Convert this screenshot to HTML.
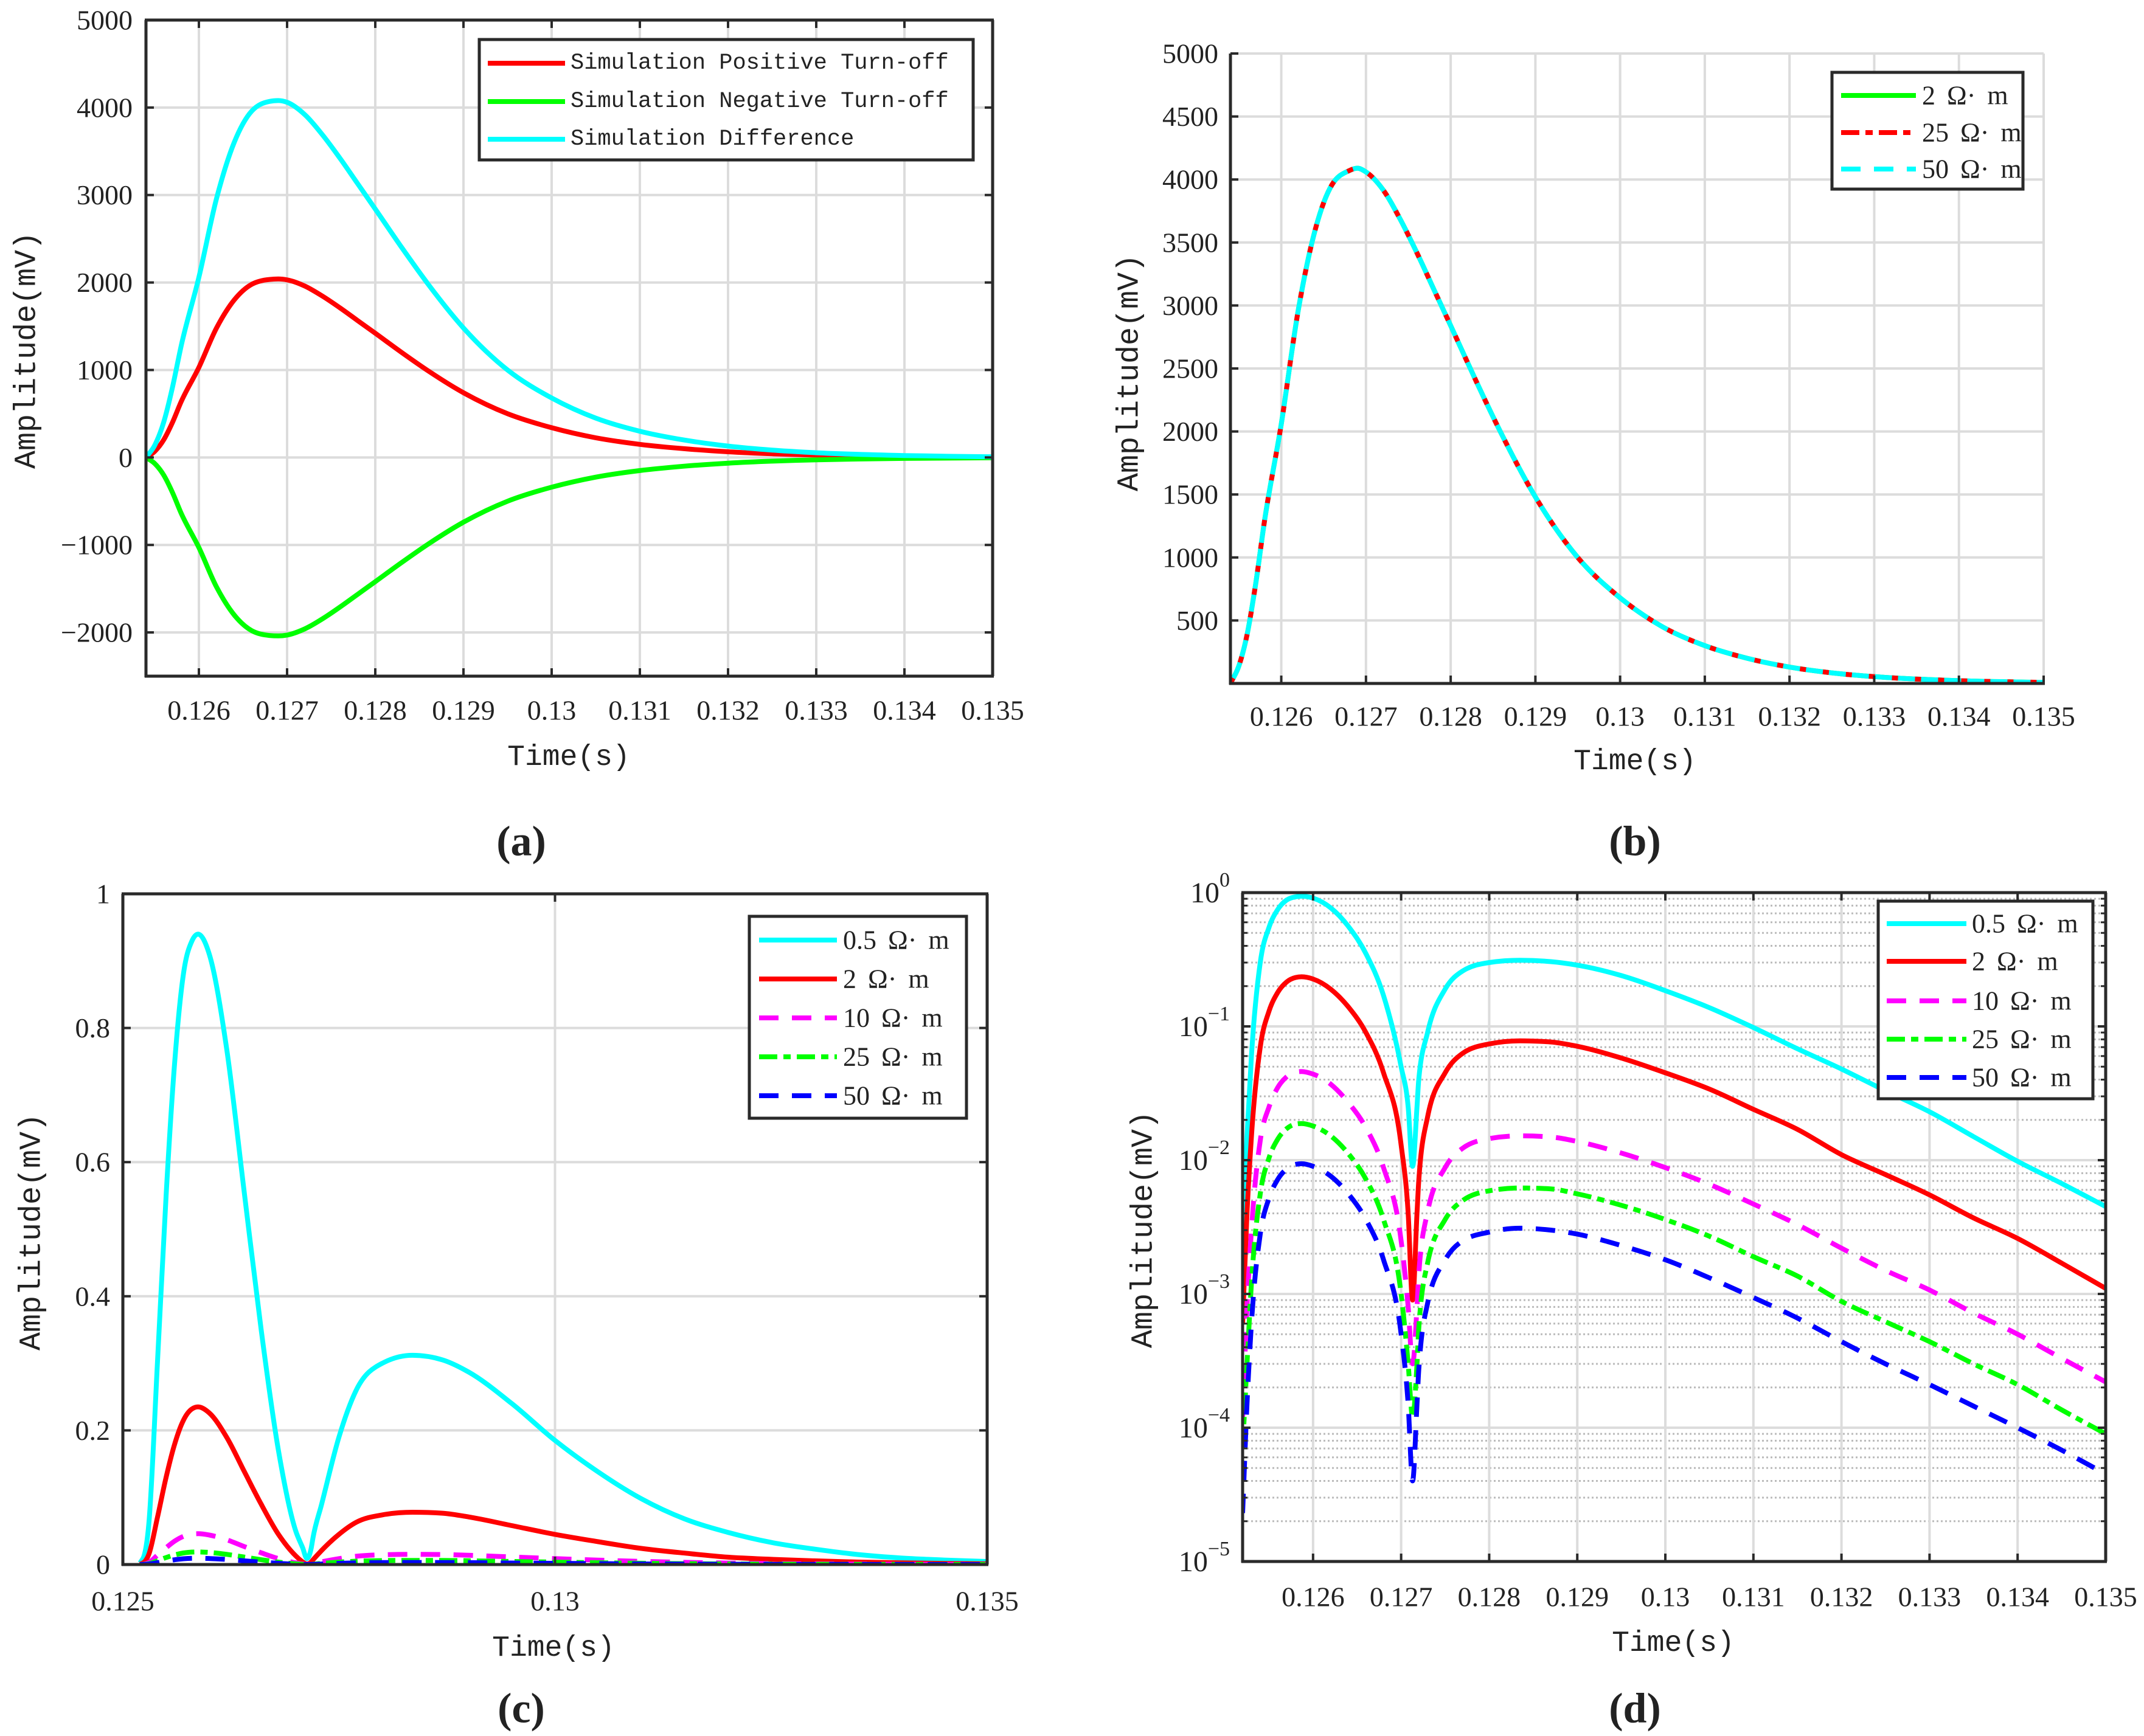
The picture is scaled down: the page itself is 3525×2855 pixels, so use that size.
<!DOCTYPE html>
<html><head><meta charset="utf-8">
<style>
html,body{margin:0;padding:0;background:#fff;}
svg{display:block;}
text{font-family:"Liberation Serif","Noto Serif CJK SC",serif;fill:#222;}
.mono{font-family:"Liberation Mono","Noto Sans CJK SC",monospace;}
</style></head>
<body>
<svg id="fig" width="3525" height="2855" viewBox="0 0 3525 2855" xmlns="http://www.w3.org/2000/svg"></svg>
<script>
// ---------- Panel (a) data ----------
const timeA = [0.1254,0.1255,0.1256,0.1257,0.1258,0.126,0.1262,0.1264,0.1266,0.1268,0.1269,0.127,0.1272,0.1274,0.1276,0.1278,0.128,0.1283,0.1286,0.129,0.1295,0.13,0.1305,0.131,0.1315,0.132,0.1325,0.133,0.134,0.135];
const posA = [0,70,200,400,640,1030,1480,1800,1980,2035,2040,2030,1960,1845,1710,1565,1420,1200,990,740,500,340,225,150,100,65,42,27,11,4];
const negA = [0,-70,-200,-400,-640,-1030,-1480,-1800,-1980,-2035,-2040,-2030,-1960,-1845,-1710,-1565,-1420,-1200,-990,-740,-500,-340,-225,-150,-100,-65,-42,-27,-11,-4];
const diffA = [0,140,400,800,1280,2060,2960,3600,3960,4070,4080,4060,3920,3690,3420,3130,2840,2400,1980,1480,1000,680,450,300,200,130,84,54,22,8];
const yTicksA = [-2000,-1000,0,1000,2000,3000,4000,5000];
const xTicksA = [0.126,0.127,0.128,0.129,0.13,0.131,0.132,0.133,0.134,0.135];
const xTickLabA = ["0.126","0.127","0.128","0.129","0.13","0.131","0.132","0.133","0.134","0.135"];
// ---------- Panel (b) data ----------
const timeB = [0.1254,0.1255,0.1256,0.1257,0.1258,0.126,0.1262,0.1264,0.1266,0.1268,0.1269,0.127,0.1272,0.1274,0.1276,0.1278,0.128,0.1283,0.1286,0.129,0.1295,0.13,0.1305,0.131,0.1315,0.132,0.1325,0.133,0.134,0.135];
const res2B = [0,140,400,800,1280,2060,2960,3600,3960,4070,4090,4060,3920,3690,3420,3130,2840,2400,1980,1480,1000,680,450,300,200,130,84,54,22,8];
const res25B = [0,140,400,800,1280,2060,2960,3600,3960,4070,4090,4060,3920,3690,3420,3130,2840,2400,1980,1480,1000,680,450,300,200,130,84,54,22,8];
const res50B = [0,140,400,800,1280,2060,2960,3600,3960,4070,4090,4060,3920,3690,3420,3130,2840,2400,1980,1480,1000,680,450,300,200,130,84,54,22,8];
const yTicksB = [500,1000,1500,2000,2500,3000,3500,4000,4500,5000];
// ---------- Panels (c)/(d) data ----------
const timeCD = [0.1252,0.12525,0.1253,0.1254,0.1255,0.1256,0.1257,0.1258,0.12587,0.126,0.1262,0.1264,0.1266,0.1268,0.127,0.12708,0.12713,0.12718,0.1272,0.1273,0.1275,0.1277,0.128,0.12835,0.1287,0.129,0.1295,0.13,0.1305,0.131,0.1315,0.132,0.1325,0.133,0.1335,0.134,0.1345,0.135];
const r05 = [0.0025,0.015,0.06,0.3,0.55,0.75,0.88,0.93,0.94,0.91,0.77,0.56,0.35,0.17,0.05,0.025,0.009,0.025,0.04,0.09,0.19,0.26,0.30,0.312,0.305,0.287,0.24,0.185,0.138,0.098,0.068,0.048,0.033,0.023,0.015,0.0098,0.0067,0.0045];
const r2 = [0.0006,0.004,0.015,0.07,0.13,0.18,0.215,0.232,0.235,0.226,0.19,0.14,0.09,0.045,0.013,0.004,0.0009,0.004,0.007,0.021,0.045,0.063,0.074,0.078,0.0765,0.071,0.058,0.045,0.034,0.024,0.017,0.011,0.0078,0.0055,0.0037,0.0026,0.0017,0.0011];
const r10 = [0.00012,0.0008,0.003,0.014,0.025,0.035,0.042,0.0455,0.046,0.044,0.037,0.027,0.0175,0.0088,0.0025,0.0008,0.0003,0.0008,0.0014,0.0041,0.0088,0.0123,0.0145,0.0152,0.0149,0.0138,0.0113,0.0088,0.0066,0.0047,0.0033,0.0022,0.0015,0.00107,0.00072,0.0005,0.00033,0.00022];
const r25 = [0.00007,0.0003,0.0012,0.0056,0.0104,0.0144,0.0172,0.0186,0.0188,0.018,0.0152,0.0112,0.0072,0.0036,0.001,0.0003,0.00012,0.0003,0.00055,0.0017,0.0036,0.005,0.0059,0.0062,0.0061,0.0056,0.0046,0.0036,0.0027,0.0019,0.00136,0.00088,0.00062,0.00044,0.0003,0.00021,0.000136,0.00009];
const r50 = [0.000023,0.00015,0.0006,0.0028,0.0052,0.0072,0.0086,0.0093,0.0094,0.009,0.0076,0.0056,0.0036,0.0018,0.0005,0.00015,0.00004,0.00015,0.00027,0.00085,0.0018,0.0025,0.0029,0.0031,0.003,0.0028,0.0023,0.0018,0.00132,0.00094,0.00066,0.00044,0.0003,0.00021,0.000145,0.0001,0.000068,0.000045];
const yTicksC = [0,0.2,0.4,0.6,0.8,1];
const yTickLabC = ["0","0.2","0.4","0.6","0.8","1"];
const xTicksC = [0.125,0.13,0.135];
const xTickLabC = ["0.125","0.13","0.135"];
const yDecadesD = [-5,-4,-3,-2,-1,0];

const NS="http://www.w3.org/2000/svg";
const svg=document.getElementById('fig');
function mk(tag,attrs,parent){const e=document.createElementNS(NS,tag);for(const k in attrs)e.setAttribute(k,attrs[k]);(parent||svg).appendChild(e);return e;}
function txt(s,x,y,size,anchor,parent,cls){const t=mk('text',{x:x,y:y,'font-size':size,'text-anchor':anchor||'middle','dominant-baseline':'central'},parent);if(cls)t.setAttribute('class',cls);t.textContent=s;return t;}
function lin(d0,d1,p0,p1){return v=>p0+(v-d0)/(d1-d0)*(p1-p0);}
function pathD(xs,ys,sx,sy){
  const X=xs.map(sx),Y=ys.map(sy),n=X.length;
  if(n<3){let d='';for(let i=0;i<n;i++)d+=(i?'L':'M')+X[i]+','+Y[i];return d;}
  const h=[],s=[];for(let i=0;i<n-1;i++){h.push(X[i+1]-X[i]);s.push((Y[i+1]-Y[i])/h[i]);}
  const m=new Array(n);
  for(let i=1;i<n-1;i++){const s0=s[i-1],s1=s[i];if(s0*s1<=0){m[i]=0;continue;}const p=(s0*h[i]+s1*h[i-1])/(h[i-1]+h[i]);m[i]=(Math.sign(s0)+Math.sign(s1))*Math.min(Math.abs(s0),Math.abs(s1),0.5*Math.abs(p));}
  m[0]=s[0];m[n-1]=s[n-2];
  let d='M'+X[0].toFixed(1)+','+Y[0].toFixed(1);
  for(let i=0;i<n-1;i++){const dx=h[i]/3;d+='C'+(X[i]+dx).toFixed(1)+','+(Y[i]+m[i]*dx).toFixed(1)+' '+(X[i+1]-dx).toFixed(1)+','+(Y[i+1]-m[i+1]*dx).toFixed(1)+' '+X[i+1].toFixed(1)+','+Y[i+1].toFixed(1);}
  return d;
}

function panel(cfg){
  const g=mk('g',{});
  
  
  const clipId=cfg.name+'-clip';
  const cp=mk('clipPath',{id:clipId},g);mk('rect',{x:cfg.L,y:cfg.T,width:cfg.R-cfg.L,height:cfg.B-cfg.T},cp);
  if(cfg.minorY){cfg.minorY.forEach(v=>{const y=cfg.sy(v);const l=mk('line',{x1:cfg.L,x2:cfg.R,y1:y,y2:y,stroke:'#bbb','stroke-width':3,'stroke-dasharray':'3 4'},g);});}
  cfg.gridX.forEach(v=>{const x=cfg.sx(v);const l=mk('line',{x1:x,x2:x,y1:cfg.T,y2:cfg.B,stroke:'#dcdcdc','stroke-width':4},g);});
  cfg.gridY.forEach(v=>{const y=cfg.sy(v);const l=mk('line',{x1:cfg.L,x2:cfg.R,y1:y,y2:y,stroke:'#dcdcdc','stroke-width':4},g);});
  cfg.series.forEach(s=>{const p=mk('path',{d:pathD(s.x,s.y,cfg.sx,s.sy||cfg.sy),fill:'none',stroke:s.c,'stroke-width':8,'stroke-linejoin':'round','clip-path':'url(#'+clipId+')'},g);if(s.dash)p.setAttribute('stroke-dasharray',s.dash);});
  const ax='#2a2a2a';
  const bl=mk('line',{x1:cfg.L,x2:cfg.L,y1:cfg.T,y2:cfg.B+2,stroke:ax,'stroke-width':5},g);
  const bb=mk('line',{x1:cfg.L-2,x2:cfg.R+2,y1:cfg.B,y2:cfg.B,stroke:ax,'stroke-width':5},g);
  if(cfg.box){mk('line',{x1:cfg.L-2,x2:cfg.R+2,y1:cfg.T,y2:cfg.T,stroke:ax,'stroke-width':5},g);mk('line',{x1:cfg.R,x2:cfg.R,y1:cfg.T,y2:cfg.B,stroke:ax,'stroke-width':5},g);}
  cfg.xTicks.forEach((v,i)=>{const x=cfg.sx(v);mk('line',{x1:x,x2:x,y1:cfg.B,y2:cfg.B-13,stroke:ax,'stroke-width':4},g);if(cfg.box)mk('line',{x1:x,x2:x,y1:cfg.T,y2:cfg.T+13,stroke:ax,'stroke-width':4},g);
    const t=txt(cfg.xLab[i],x,cfg.xLabY,46,'middle',g);});
  cfg.yTicks.forEach((v,i)=>{const y=cfg.sy(v);mk('line',{x1:cfg.L,x2:cfg.L+13,y1:y,y2:y,stroke:ax,'stroke-width':4},g);if(cfg.box)mk('line',{x1:cfg.R,x2:cfg.R-13,y1:y,y2:y,stroke:ax,'stroke-width':4},g);
    if(cfg.logLab){const t=mk('text',{x:cfg.yLabX,y:y+16,'font-size':48,'text-anchor':'end'},g);const b=mk('tspan',{},t);b.textContent='10';const e=Math.round(Math.log10(v));const s=mk('tspan',{dy:-26,'font-size':34},t);s.textContent=e<0?'\u2212'+(-e):String(e);}
    else{const t=txt(cfg.yLab[i],cfg.yLabX,y,46,'end',g);}});
  if(cfg.minorY&&cfg.box){cfg.minorY.forEach(v=>{const y=cfg.sy(v);mk('line',{x1:cfg.L,x2:cfg.L+8,y1:y,y2:y,stroke:ax,'stroke-width':3},g);mk('line',{x1:cfg.R,x2:cfg.R-8,y1:y,y2:y,stroke:ax,'stroke-width':3},g);});}
  const xt=txt('Time(s)',cfg.xtX,cfg.xtY,48,'middle',g,'mono');
  const yt=txt('Amplitude(mV)',0,0,50,'middle',g,'mono');yt.setAttribute('transform','translate('+cfg.ytX+','+cfg.ytY+') rotate(-90)');
  const lg=mk('g',{},g);
  const Lg=cfg.legend;
  mk('rect',{x:Lg.x0,y:Lg.y0,width:Lg.x1-Lg.x0,height:Lg.y1-Lg.y0,fill:'#fff',stroke:'#2a2a2a','stroke-width':5},lg);
  Lg.items.forEach((it,i)=>{const y=Lg.rows[i];const e=mk('g',{},lg);
    const l=mk('line',{x1:Lg.lx0,x2:Lg.lx1,y1:y,y2:y,stroke:it.c,'stroke-width':8},e);if(it.dash)l.setAttribute('stroke-dasharray',it.dash);
    const t=txt(it.t,Lg.tx,y,Lg.fs,'start',e,Lg.cls);if(Lg.ws)t.setAttribute('word-spacing',Lg.ws);});
  const pl=mk('text',{x:cfg.plX,y:cfg.plY,'font-size':70,'font-weight':'bold','text-anchor':'middle','dominant-baseline':'central'},g);pl.textContent=cfg.pl;
}

const DASH='32 22', DASHDOT='30 10 12 10';
(function(){const L=240,R=1632,T=33,B=1112;const sx=lin(0.1254,0.135,L,R),sy=lin(-2500,5000,B,T);
panel({name:'panel-a',L,R,T,B,sx,sy,box:true,gridX:xTicksA,gridY:yTicksA,xTicks:xTicksA,xLab:xTickLabA,xLabY:1168,yTicks:yTicksA,yLab:yTicksA.map(v=>v<0?'\u2212'+(-v):String(v)),yLabX:218,
series:[{id:'series-positive',x:timeA,y:posA,c:'#ff0000'},{id:'series-negative',x:timeA,y:negA,c:'#00ff00'},{id:'series-difference',x:timeA,y:diffA,c:'#00ffff'}],
xtX:935,xtY:1246,ytX:45,ytY:576,
legend:{x0:788,y0:65,x1:1600,y1:263,rows:[104,167,229],lx0:802,lx1:929,tx:938,fs:37,cls:'mono',items:[{t:'Simulation Positive Turn-off',c:'#ff0000'},{t:'Simulation Negative Turn-off',c:'#00ff00'},{t:'Simulation Difference',c:'#00ffff'}]},
pl:'(a)',plX:857,plY:1384});})();
(function(){const L=2023,R=3360,T=88,B=1124;const sx=lin(0.1254,0.135,L,R),sy=lin(0,5000,B,T);
panel({name:'panel-b',L,R,T,B,sx,sy,box:false,gridX:xTicksA.concat([0.1254]),gridY:yTicksB.concat([0]),xTicks:xTicksA,xLab:xTickLabA,xLabY:1178,yTicks:yTicksB,yLab:yTicksB.map(String),yLabX:2003,
series:[{id:'series-2-ohm-m',x:timeB,y:res2B,c:'#00ff00'},{id:'series-25-ohm-m',x:timeB,y:res25B,c:'#00ffff'},{id:'series-50-ohm-m',x:timeB,y:res50B,c:'#ff0000',dash:'10 28'}],
xtX:2688,xtY:1253,ytX:1858,ytY:613,
legend:{x0:3012,y0:119,x1:3326,y1:311,rows:[157,218,278],lx0:3027,lx1:3150,tx:3160,fs:44,ws:8,items:[{t:'2 Ω· m',c:'#00ff00'},{t:'25 Ω· m',c:'#ff0000',dash:DASHDOT},{t:'50 Ω· m',c:'#00ffff',dash:DASH}]},
pl:'(b)',plX:2688,plY:1384});})();
(function(){const L=202,R=1623,T=1470,B=2573;const sx=lin(0.125,0.135,L,R),sy=lin(0,1,B,T);
panel({name:'panel-c',L,R,T,B,sx,sy,box:true,gridX:xTicksC,gridY:yTicksC,xTicks:xTicksC,xLab:xTickLabC,xLabY:2633,yTicks:yTicksC,yLab:yTickLabC,yLabX:181,
series:[{id:'series-0.5-ohm-m',x:timeCD,y:r05,c:'#00ffff'},{id:'series-2-ohm-m',x:timeCD,y:r2,c:'#ff0000'},{id:'series-10-ohm-m',x:timeCD,y:r10,c:'#ff00ff',dash:DASH},{id:'series-25-ohm-m',x:timeCD,y:r25,c:'#00ff00',dash:DASHDOT},{id:'series-50-ohm-m',x:timeCD,y:r50,c:'#0000ff',dash:DASH}],
xtX:910,xtY:2711,ytX:53,ytY:2026,
legend:{x0:1232,y0:1507,x1:1589,y1:1839,rows:[1546,1610,1674,1738,1802],lx0:1248,lx1:1376,tx:1386,fs:44,ws:8,items:[{t:'0.5 Ω· m',c:'#00ffff'},{t:'2 Ω· m',c:'#ff0000'},{t:'10 Ω· m',c:'#ff00ff',dash:DASH},{t:'25 Ω· m',c:'#00ff00',dash:DASHDOT},{t:'50 Ω· m',c:'#0000ff',dash:DASH}]},
pl:'(c)',plX:857,plY:2810});})();
(function(){const L=2043,R=3462,T=1468,B=2568;const sx=lin(0.1252,0.135,L,R);const sl=lin(-5,0,B,T);const sy=v=>sl(Math.log10(Math.max(v,1e-6)));
const minor=[];yDecadesD.slice(0,-1).forEach(d=>{for(let k=2;k<10;k++)minor.push(k*Math.pow(10,d));});
const dec=yDecadesD.map(d=>Math.pow(10,d));
panel({name:'panel-d',L,R,T,B,sx,sy,box:true,gridX:xTicksA,gridY:dec,minorY:minor,xTicks:xTicksA,xLab:xTickLabA,xLabY:2626,yTicks:dec,yLab:[],logLab:true,yLabX:2022,
series:[{id:'series-0.5-ohm-m',x:timeCD,y:r05,c:'#00ffff'},{id:'series-2-ohm-m',x:timeCD,y:r2,c:'#ff0000'},{id:'series-10-ohm-m',x:timeCD,y:r10,c:'#ff00ff',dash:DASH},{id:'series-25-ohm-m',x:timeCD,y:r25,c:'#00ff00',dash:DASHDOT},{id:'series-50-ohm-m',x:timeCD,y:r50,c:'#0000ff',dash:DASH}],
xtX:2751,xtY:2703,ytX:1881,ytY:2022,
legend:{x0:3088,y0:1482,x1:3441,y1:1807,rows:[1519,1581,1646,1709,1772],lx0:3102,lx1:3233,tx:3242,fs:44,ws:8,items:[{t:'0.5 Ω· m',c:'#00ffff'},{t:'2 Ω· m',c:'#ff0000'},{t:'10 Ω· m',c:'#ff00ff',dash:DASH},{t:'25 Ω· m',c:'#00ff00',dash:DASHDOT},{t:'50 Ω· m',c:'#0000ff',dash:DASH}]},
pl:'(d)',plX:2688,plY:2810});
})();
</script>
</body></html>
